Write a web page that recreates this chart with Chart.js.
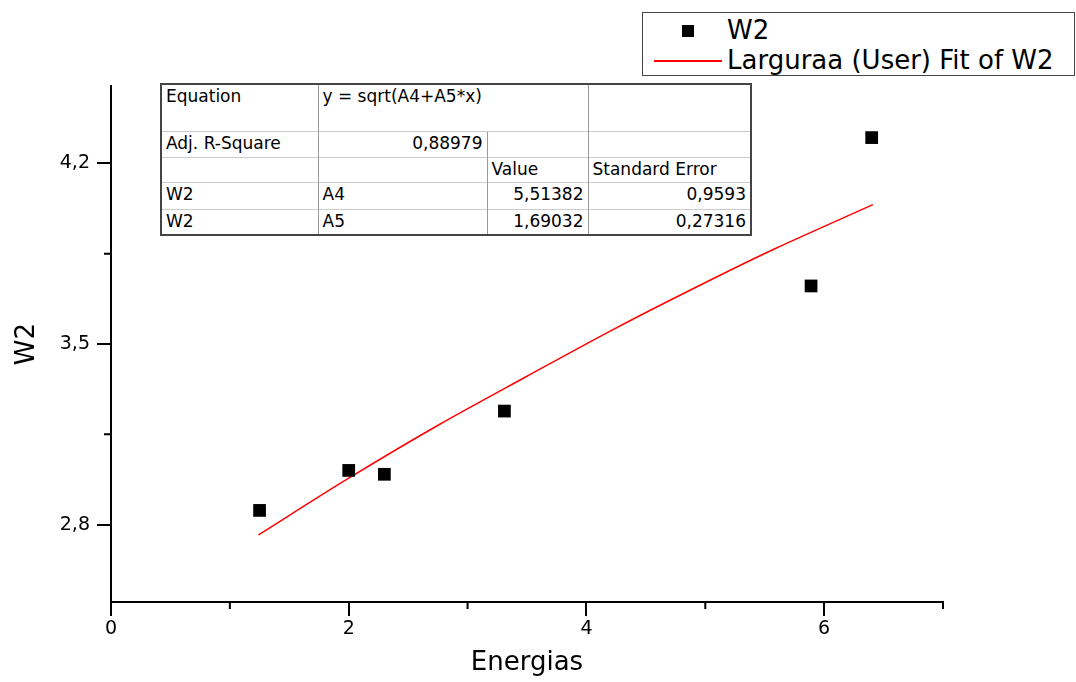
<!DOCTYPE html>
<html>
<head>
<meta charset="utf-8">
<script src="https://cdn.jsdelivr.net/npm/chart.js@4.4.0/dist/chart.umd.min.js"></script>
<style>
  body { margin: 0; background: #fff; }
  #wrap { position: relative; width: 1076px; height: 682px; font-family: "DejaVu Sans", sans-serif; }
  #legend { position: absolute; left: 642px; top: 12px; width: 431px; height: 62px; border: 1.5px solid #444; background: #fff; }
  #legend .item { position: absolute; left: 0; height: 30px; width: 100%; }
  #legend .txt { position: absolute; left: 84px; font-size: 26px; line-height: 30px; color: #000; white-space: nowrap; }
  #fitTable { position: absolute; left: 160px; top: 83px; border-collapse: collapse; border: 2px solid #444; background: #fff; font-size: 17px; color: #000; }
  #fitTable td { padding: 0 4px; vertical-align: top; line-height: 22px; border-left: 1px solid #999; border-top: 1px solid #ccc; white-space: nowrap; }
  #fitTable td.r { text-align: right; }
</style>
</head>
<body>
<div id="wrap">
  <canvas id="chart" width="1076" height="682"></canvas>
  <div id="legend"></div>
  <table id="fitTable">
    <colgroup><col style="width:157px"><col style="width:169px"><col style="width:101px"><col style="width:163px"></colgroup>
    <tr style="height:47px"><td>Equation</td><td colspan="2">y = sqrt(A4+A5*x)</td><td></td></tr>
    <tr style="height:26px"><td>Adj. R-Square</td><td class="r">0,88979</td><td></td><td></td></tr>
    <tr style="height:25px"><td></td><td></td><td>Value</td><td>Standard Error</td></tr>
    <tr style="height:27px"><td>W2</td><td>A4</td><td class="r">5,51382</td><td class="r">0,9593</td></tr>
    <tr style="height:26px"><td>W2</td><td>A5</td><td class="r">1,69032</td><td class="r">0,27316</td></tr>
  </table>
</div>
<script>
// measured points
const energias = [1.25, 2.0, 2.3, 3.31, 5.89, 6.4];
const w2 = [2.855, 3.01, 2.995, 3.24, 3.725, 4.30];

// fit curve
const fitX = [1.24, 2.0, 2.77, 3.5, 4.2, 4.9, 5.59, 6.41];
const fitY = [2.76, 2.98, 3.19, 3.375, 3.55, 3.715, 3.87, 4.04];

const xTicks = [0, 2, 4, 6];
const xMinor = [1, 3, 5, 7];
const yTicks = [2.8, 3.5, 4.2];
const yMinor = [3.15, 3.85];

const labelFont = { family: '"DejaVu Sans", sans-serif', size: 19 };
const titleFont = { family: '"DejaVu Sans", sans-serif', size: 26 };

// short minor tick marks outside the axes
const minorTicks = {
    id: 'minorTicks',
    afterDraw(chart) {
        const c = chart.ctx;
        const xs = chart.scales.x, ys = chart.scales.y;
        c.save();
        c.strokeStyle = '#000';
        c.lineWidth = 2;
        c.beginPath();
        xMinor.forEach(v => {
            const px = xs.getPixelForValue(v);
            c.moveTo(px, chart.chartArea.bottom);
            c.lineTo(px, chart.chartArea.bottom + 7);
        });
        yMinor.forEach(v => {
            const py = ys.getPixelForValue(v);
            c.moveTo(chart.chartArea.left, py);
            c.lineTo(chart.chartArea.left - 7, py);
        });
        c.stroke();
        c.restore();
    }
};

const chart = new Chart(document.getElementById('chart'), {
    type: 'scatter',
    data: {
        datasets: [{
            label: 'W2',
            data: energias.map((x, i) => ({ x: x, y: w2[i] })),
            pointStyle: 'rect',
            pointRadius: 9,
            backgroundColor: '#000',
            borderColor: '#000',
            borderWidth: 0
        }, {
            label: 'Larguraa (User) Fit of W2',
            data: fitX.map((x, i) => ({ x: x, y: fitY[i] })),
            showLine: true,
            pointRadius: 0,
            borderColor: '#ff0000',
            borderWidth: 1.5,
            tension: 0.3
        }]
    },
    options: {
        responsive: false,
        animation: false,
        layout: { padding: { top: 86, right: 133, left: 0, bottom: 0 } },
        plugins: { legend: { display: false }, tooltip: { enabled: false } },
        scales: {
            x: {
                type: 'linear', min: 0, max: 7,
                afterBuildTicks: s => { s.ticks = xTicks.map(v => ({ value: v })); },
                afterFit: s => { s.height = 80; },
                ticks: { color: '#000', font: labelFont, padding: 2, maxRotation: 0 },
                grid: { drawOnChartArea: false, drawTicks: true, tickLength: 14, color: '#000', lineWidth: 2 },
                border: { display: true, color: '#000', width: 2 },
                title: { display: true, text: 'Energias', color: '#000', font: titleFont, padding: { top: 0, bottom: 3 } }
            },
            y: {
                type: 'linear', min: 2.5, max: 4.5,
                afterBuildTicks: s => { s.ticks = yTicks.map(v => ({ value: v })); },
                afterFit: s => { s.width = 111; },
                ticks: { color: '#000', font: labelFont, padding: 7, callback: v => String(v).replace('.', ',') },
                grid: { drawOnChartArea: false, drawTicks: true, tickLength: 14, color: '#000', lineWidth: 2 },
                border: { display: true, color: '#000', width: 2 },
                title: { display: true, text: 'W2', color: '#000', font: titleFont, padding: { top: 12, bottom: 0 } }
            }
        }
    },
    plugins: [minorTicks]
});

// legend box built from the datasets
const legend = document.getElementById('legend');
chart.data.datasets.forEach((ds, i) => {
    const item = document.createElement('div');
    item.className = 'item';
    item.style.top = (i * 30 + 2) + 'px';
    const sym = document.createElement('div');
    sym.style.position = 'absolute';
    if (ds.showLine) {
        sym.style.left = '11px'; sym.style.top = '15px';
        sym.style.width = '68px'; sym.style.height = '1.5px';
        sym.style.background = ds.borderColor;
    } else {
        sym.style.left = '39px'; sym.style.top = '10px';
        sym.style.width = '12px'; sym.style.height = '12px';
        sym.style.background = ds.backgroundColor;
    }
    const txt = document.createElement('div');
    txt.className = 'txt';
    txt.textContent = ds.label;
    item.appendChild(sym);
    item.appendChild(txt);
    legend.appendChild(item);
});
</script>
</body>
</html>
